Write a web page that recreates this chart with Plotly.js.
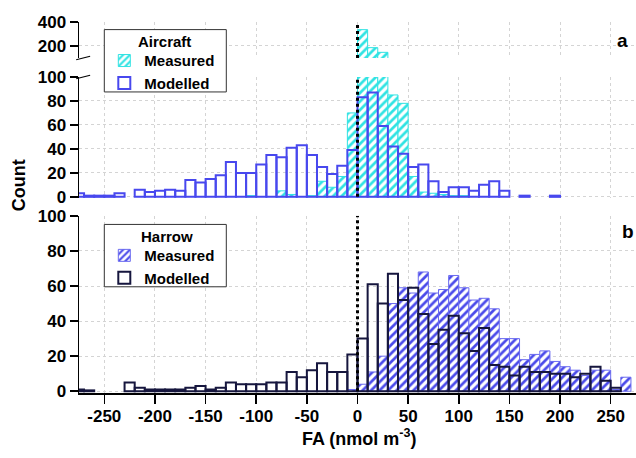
<!DOCTYPE html>
<html><head><meta charset="utf-8">
<script src="https://cdn.plot.ly/plotly-3.0.1.min.js"></script>
<style>html,body{margin:0;padding:0;background:#fff}#chart{width:636px;height:458px}</style>
</head><body><div id="chart"></div>
<script>
// FA bin centres (nmol m-3), 10-unit bins
const binCenters = [-275,-265,-255,-245,-235,-225,-215,-205,-195,-185,-175,-165,-155,-145,-135,-125,-115,-105,-95,-85,-75,-65,-55,-45,-35,-25,-15,-5,
  5,15,25,35,45,55,65,75,85,95,105,115,125,135,145,155,165,175,185,195,205,215,225,235,245,255,265];

// (a) Aircraft
const aircraftMeasured = [0,0,0,0,0,0,0,0,0,0,0,0,0,0,0,0,0,1,0,0,5,2,0,1,13,8,17,70,
  336,186,147,85,78,17,4,3,2,1,1,0,0,0,0,0,0,0,0,0,0,0,0,0,0,0,0];
const aircraftModelled = [3,1,1,1,3,0,6,4,5,6,5,14,12,15,18,29,20,20,27,35,33,41,43,35,25,19,26,39,
  83,87,59,42,36,25,27,13,4,8,8,5,10,13,5,0,1,0,0,1,0,0,0,0,0,0,0];

// (b) Harrow
const harrowMeasured = [0,0,0,0,0,0,0,0,0,0,0,0,0,0,0,0,0,0,0,0,0,0,0,0,0,0,0,1,
  4,11,20,50,59,56,68,56,58,66,59,52,53,47,30,30,18,21,23,17,14,12,9,12,12,1,8];
const harrowModelled = [1,0.5,0,0,0,5,2,1,1,1,1,2,3,1,2,5,4,4,4,5,5,11,8,12,16,11,11,21,
  30,61,50,67,52,59,44,27,35,43,33,23,36,15,14,9,14,11,11,10,10,8,10,14,6,2,0];

const xTickVals = [-250,-200,-150,-100,-50,0,50,100,150,200,250];
const xTickText = ['-250','-200','-150','-100','-50','0','50','100','150','200','250'];
const legendTitles = ['Aircraft', 'Harrow'];
const FONT = 'Liberation Sans, Arial, sans-serif';

// empty bins are not drawn
const drawn = arr => arr.map(v => v === 0 ? null : v);

const cyan = '#2fe3e3';
const blueA = '#4848ee';
const blueB = '#4a4aea';
const navy = '#16163e';

const measA = {type:'bar', x:binCenters, y:drawn(aircraftMeasured), width:10, name:'Measured',
  legend:'legend', xaxis:'x', yaxis:'y',
  marker:{color:'white', pattern:{shape:'/', fgcolor:cyan, bgcolor:'white', size:6, solidity:0.45}, line:{color:cyan, width:1}}};
const measAup = Object.assign({}, measA, {yaxis:'y2', showlegend:false});
const modA = {type:'bar', x:binCenters, y:drawn(aircraftModelled), width:10, name:'Modelled',
  legend:'legend', xaxis:'x', yaxis:'y',
  marker:{color:'rgba(0,0,0,0)', line:{color:blueA, width:2}}};
const measB = {type:'bar', x:binCenters, y:drawn(harrowMeasured), width:10, name:'Measured',
  legend:'legend2', xaxis:'x2', yaxis:'y3',
  marker:{color:'white', pattern:{shape:'/', fgcolor:blueB, bgcolor:'white', size:6, solidity:0.45}, line:{color:'#6a6af0', width:1}}};
const modB = {type:'bar', x:binCenters, y:drawn(harrowModelled), width:10, name:'Modelled',
  legend:'legend2', xaxis:'x2', yaxis:'y3',
  marker:{color:'rgba(0,0,0,0)', line:{color:navy, width:2}}};

const tickfont = {family:FONT, size:17, color:'#000', weight:700};
const grid = {showgrid:true, gridcolor:'#d4d4d4', griddash:'dot', gridwidth:1};
const yCommon = Object.assign({zeroline:false, showline:true, linecolor:'#000', linewidth:1.5,
  ticks:'outside', ticklen:8, tickwidth:1.5, tickcolor:'#000', tickfont:tickfont}, grid);

const H = 371.3, T = 21.7, B = 65, L = 79, W = 557;
const fy = p => (T + H - p) / H;   // pixel -> paper fraction
const fx = p => (p - L) / W;

const legendCommon = {xanchor:'left', yanchor:'top', bgcolor:'rgba(0,0,0,0)', borderwidth:0,
  font:{family:FONT, size:15, color:'#000', weight:700}, tracegroupgap:0, itemwidth:30};

const boxA = {top:29.3, bottom:91.7}, boxB = {top:224.3, bottom:286.7};
const boxShape = b => ({type:'rect', xref:'paper', yref:'paper', x0:fx(104.3), x1:fx(226.3), y0:fy(b.bottom), y1:fy(b.top),
  line:{color:'#333', width:1}, fillcolor:'white', layer:'above'});

const layout = {
  width:636, height:458, margin:{l:L, r:0, t:T, b:B},
  paper_bgcolor:'white', plot_bgcolor:'white', barmode:'overlay', bargap:0,
  font:{family:FONT, color:'#000'},
  xaxis: Object.assign({domain:[0,1], range:[-275,275], anchor:'y', tickvals:xTickVals,
    showticklabels:false, ticks:'', showline:false, zeroline:false}, grid),
  yaxis: Object.assign({}, yCommon, {domain:[fy(197.9), fy(76.7)], range:[-1,100], dtick:20, tick0:0, anchor:'x'}),
  yaxis2: Object.assign({}, yCommon, {domain:[fy(57.7), 1], range:[100,400], tickvals:[200,400], anchor:'x'}),
  xaxis2: Object.assign({domain:[0,1], range:[-275,275], anchor:'y3', tickvals:xTickVals, ticktext:xTickText,
    showline:true, linecolor:'#000', linewidth:1.5, ticks:'outside', ticklen:9, tickwidth:1.5, tickcolor:'#000',
    zeroline:false, tickfont:tickfont, ticklabelstandoff:-2}, grid),
  yaxis3: Object.assign({}, yCommon, {domain:[0, fy(215.7)], range:[-1,100], dtick:20, tick0:0, anchor:'x2'}),
  legend: Object.assign({}, legendCommon, {x:fx(104.3), y:fy(44)}),
  legend2: Object.assign({}, legendCommon, {x:fx(104.3), y:fy(239)}),
  shapes: [
    {type:'line', xref:'x', yref:'y', x0:0, x1:0, y0:0, y1:100, line:{color:'#000', width:3, dash:'dot'}},
    {type:'line', xref:'x', yref:'y2', x0:0, x1:0, y0:100, y1:380, line:{color:'#000', width:3, dash:'dot'}},
    {type:'line', xref:'x2', yref:'y3', x0:0, x1:0, y0:0, y1:100, line:{color:'#000', width:3, dash:'dot'}},
    // axis break marks
    {type:'line', xref:'paper', yref:'paper', x0:-0.005, x1:0.02, y0:fy(59.5), y1:fy(56), line:{color:'#000', width:1.2}},
    {type:'line', xref:'paper', yref:'paper', x0:-0.005, x1:0.02, y0:fy(78.5), y1:fy(75), line:{color:'#000', width:1.2}},
    boxShape(boxA), boxShape(boxB)
  ],
  annotations: [
    {text:legendTitles[0], xref:'paper', yref:'paper', x:fx(164), y:fy(41), showarrow:false, xanchor:'center', yanchor:'middle',
      font:{family:FONT, size:15, color:'#000', weight:700}},
    {text:legendTitles[1], xref:'paper', yref:'paper', x:fx(167), y:fy(236), showarrow:false, xanchor:'center', yanchor:'middle',
      font:{family:FONT, size:15, color:'#000', weight:700}},
    {text:'a', xref:'paper', yref:'paper', x:fx(622), y:fy(40), showarrow:false, xanchor:'center', yanchor:'middle',
      font:{family:FONT, size:19, color:'#000', weight:700}},
    {text:'b', xref:'paper', yref:'paper', x:fx(628), y:fy(231), showarrow:false, xanchor:'center', yanchor:'middle',
      font:{family:FONT, size:19, color:'#000', weight:700}},
    {text:'Count', xref:'paper', yref:'paper', x:fx(19), y:fy(185), showarrow:false, textangle:-90,
      xanchor:'center', yanchor:'middle', font:{family:FONT, size:18, color:'#000', weight:700}},
    {text:'FA (nmol m<sup>-3</sup>)', xref:'paper', yref:'paper', x:fx(359), y:fy(438), showarrow:false,
      xanchor:'center', yanchor:'middle', font:{family:FONT, size:18, color:'#000', weight:700}}
  ]
};

Plotly.newPlot('chart', [measA, measAup, modA, measB, modB], layout, {displayModeBar:false, staticPlot:true});
</script>
</body></html>
